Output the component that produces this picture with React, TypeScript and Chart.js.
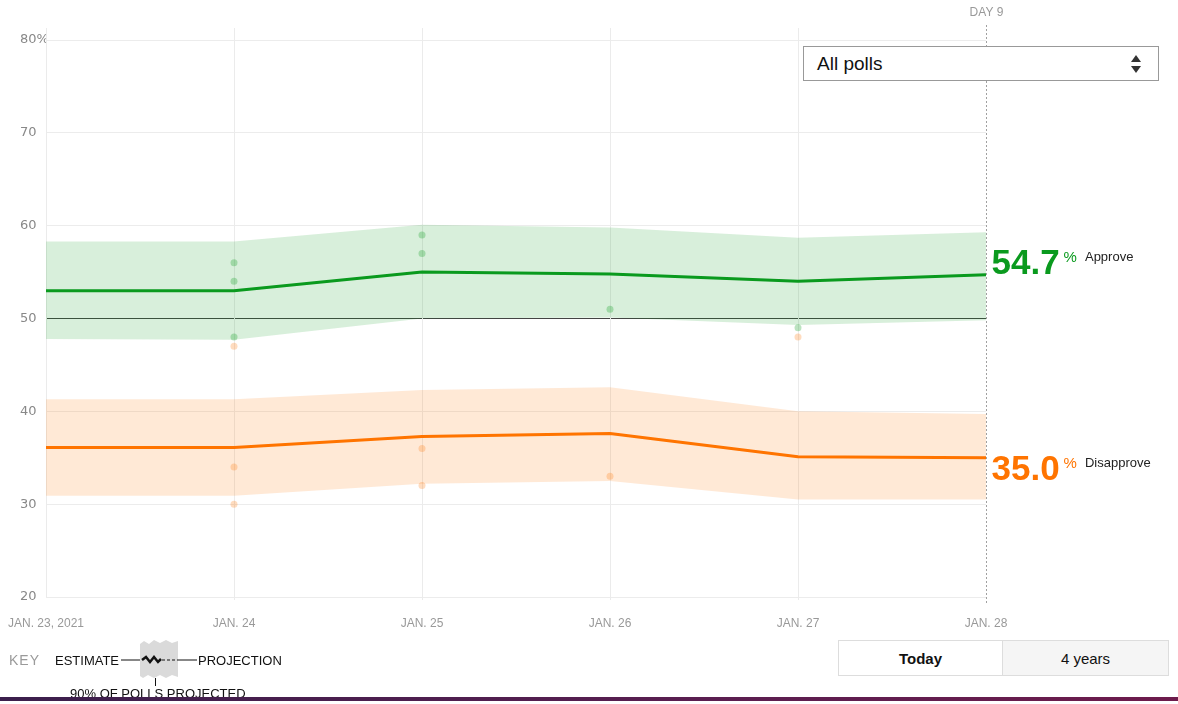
import React, { useEffect, useRef } from "react";
import { Chart, registerables } from "chart.js";

Chart.register(...registerables);

const dates = ["JAN. 23, 2021", "JAN. 24", "JAN. 25", "JAN. 26", "JAN. 27", "JAN. 28"];
const approve = [53.0, 53.0, 55.0, 54.8, 54.0, 54.7];
const approveHigh = [58.3, 58.3, 60.1, 59.8, 58.7, 59.3];
const approveLow = [47.8, 47.7, 50.0, 50.1, 49.3, 49.8];
const disapprove = [36.1, 36.1, 37.3, 37.6, 35.1, 35.0];
const disapproveHigh = [41.3, 41.3, 42.3, 42.6, 40.0, 39.7];
const disapproveLow = [30.9, 30.9, 32.2, 32.5, 30.5, 30.5];
const approvePolls = [
  { x: "JAN. 24", y: 56 },
  { x: "JAN. 24", y: 54 },
  { x: "JAN. 24", y: 48 },
  { x: "JAN. 25", y: 59 },
  { x: "JAN. 25", y: 57 },
  { x: "JAN. 26", y: 51 },
  { x: "JAN. 27", y: 49 },
];
const disapprovePolls = [
  { x: "JAN. 24", y: 47 },
  { x: "JAN. 24", y: 34 },
  { x: "JAN. 24", y: 30 },
  { x: "JAN. 25", y: 36 },
  { x: "JAN. 25", y: 32 },
  { x: "JAN. 26", y: 33 },
  { x: "JAN. 27", y: 48 },
];
const yMin = 20;
const yMax = 80;
const yStep = 10;
const dayLabel = "DAY 9";

const GREEN = "#0a9a1e";
const ORANGE = "#ff7400";

const overlayPlugin = {
  id: "overlay",
  beforeDatasetsDraw(chart: any) {
    const { ctx, chartArea, scales } = chart;
    const x = scales.x;
    ctx.save();
    ctx.strokeStyle = "#ebebeb";
    ctx.lineWidth = 1;
    for (let i = 0; i < dates.length - 1; i++) {
      const px = Math.round(x.getPixelForValue(i)) + 0.5;
      ctx.beginPath();
      ctx.moveTo(px, chartArea.top - 12);
      ctx.lineTo(px, chartArea.bottom + (i === 0 ? 0 : 3));
      ctx.stroke();
    }
    ctx.restore();
  },
  afterDraw(chart: any) {
    const { ctx, chartArea, scales } = chart;
    const x = scales.x;
    const y = scales.y;
    const last = dates.length - 1;
    const px = Math.round(x.getPixelForValue(last)) + 0.5;
    ctx.save();
    ctx.strokeStyle = "#a0a0a0";
    ctx.lineWidth = 1;
    ctx.setLineDash([2, 2]);
    ctx.beginPath();
    ctx.moveTo(px, chartArea.top - 15);
    ctx.lineTo(px, chartArea.bottom + 8);
    ctx.stroke();
    ctx.setLineDash([]);
    ctx.fillStyle = "#999";
    ctx.font = "12px 'Liberation Sans', Arial, sans-serif";
    ctx.textAlign = "center";
    ctx.textBaseline = "middle";
    ctx.fillText(dayLabel, px, 13);

    const drawLabel = (val: number, color: string, name: string, baseY: number) => {
      const lx = px + 5;
      ctx.textAlign = "left";
      ctx.textBaseline = "alphabetic";
      ctx.fillStyle = color;
      ctx.font = "bold 35px 'Liberation Sans', Arial, sans-serif";
      const t = val.toFixed(1);
      ctx.fillText(t, lx, baseY);
      const w = ctx.measureText(t).width;
      ctx.font = "15px 'Liberation Sans', Arial, sans-serif";
      ctx.fillText("%", lx + w + 4, baseY - 12);
      const w2 = ctx.measureText("%").width;
      ctx.fillStyle = "#222";
      ctx.font = "13px 'Liberation Sans', Arial, sans-serif";
      ctx.fillText(name, lx + w + w2 + 12, baseY - 13);
    };
    drawLabel(approve[last], GREEN, "Approve", y.getPixelForValue(approve[last]) - 1);
    drawLabel(disapprove[last], ORANGE, "Disapprove", y.getPixelForValue(disapprove[last]) + 22);
    ctx.restore();
  },
};

function ChartCanvas() {
  const ref = useRef<HTMLCanvasElement | null>(null);
  useEffect(() => {
    if (!ref.current) return;
    const chart = new Chart(ref.current, {
      type: "line",
      data: {
        labels: dates,
        datasets: [
          {
            data: approveHigh,
            fill: "+1",
            backgroundColor: "rgba(10,154,30,0.16)",
            borderWidth: 0,
            pointRadius: 0,
            order: 3,
          } as any,
          {
            data: approveLow,
            fill: false,
            borderWidth: 0,
            pointRadius: 0,
            order: 3,
          },
          {
            data: disapproveHigh,
            fill: "+1",
            backgroundColor: "rgba(255,116,0,0.16)",
            borderWidth: 0,
            pointRadius: 0,
            order: 3,
          },
          {
            data: disapproveLow,
            fill: false,
            borderWidth: 0,
            pointRadius: 0,
            order: 3,
          },
          {
            data: approve,
            borderColor: GREEN,
            borderWidth: 3,
            pointRadius: 0,
            fill: false,
            tension: 0,
            order: 0,
          },
          {
            data: disapprove,
            borderColor: ORANGE,
            borderWidth: 3,
            pointRadius: 0,
            fill: false,
            tension: 0,
            order: 0,
          },
          {
            data: approvePolls as any,
            showLine: false,
            pointRadius: 3.5,
            pointBorderWidth: 0,
            pointBackgroundColor: "rgba(10,154,30,0.28)",
            fill: false,
            order: 1,
          },
          {
            data: disapprovePolls as any,
            showLine: false,
            pointRadius: 3.5,
            pointBorderWidth: 0,
            pointBackgroundColor: "rgba(255,116,0,0.25)",
            fill: false,
            order: 1,
          },
        ],
      },
      options: {
        animation: false,
        responsive: false,
        devicePixelRatio: 1,
        layout: { padding: { top: 40, right: 192, left: 20, bottom: 0 } },
        plugins: { legend: { display: false }, tooltip: { enabled: false } },
        elements: { line: { borderJoinStyle: "round" } },
        scales: {
          x: {
            offset: false,
            grid: { display: false },
            border: { display: false },
            ticks: {
              color: "#999",
              font: { family: "'Liberation Sans', Arial, sans-serif", size: 12 },
              padding: 11,
              maxRotation: 0,
              autoSkip: false,
            },
            afterFit(scale: any) {
              scale.height = 43;
              scale.paddingLeft = 0;
              scale.paddingRight = 0;
            },
          },
          y: {
            min: yMin,
            max: yMax,
            grid: {
              drawTicks: false,
              color: (c: any) => (c.tick && c.tick.value === 50 ? "#444" : "#ececec"),
              lineWidth: 1,
            },
            border: { display: false },
            ticks: {
              stepSize: yStep,
              crossAlign: "far",
              padding: 0,
              color: "#888",
              font: { family: "'DejaVu Sans', sans-serif", size: 13 },
              callback: (v: any) => (v === yMax ? v + "%" : String(v)),
            },
            afterFit(scale: any) {
              scale.width = 26;
            },
          },
        },
      },
      plugins: [overlayPlugin],
    });
    return () => chart.destroy();
  }, []);
  return (
    <canvas
      ref={ref}
      width={1178}
      height={640}
      style={{ position: "absolute", left: 0, top: 0, width: 1178, height: 640 }}
    />
  );
}

export default function App() {
  const font = "'Liberation Sans', Arial, Helvetica, sans-serif";
  return (
    <div
      style={{
        position: "absolute",
        left: 0,
        top: 0,
        width: 1178,
        height: 704,
        background: "#fff",
        overflow: "hidden",
        fontFamily: font,
      }}
    >
      <ChartCanvas />
      <div
        style={{
          position: "absolute",
          left: 803,
          top: 46,
          width: 354,
          height: 33,
          border: "1px solid #999",
          background: "#fff",
          boxSizing: "content-box",
        }}
      >
        <span style={{ position: "absolute", left: 13, top: 6, fontSize: 19, color: "#111" }}>All polls</span>
        <svg width="12" height="20" style={{ position: "absolute", right: 16, top: 7 }}>
          <path d="M1 8 L6 1 L11 8 Z" fill="#333" />
          <path d="M1 12 L6 19 L11 12 Z" fill="#333" />
        </svg>
      </div>
      <svg width="320" height="74" style={{ position: "absolute", left: 0, top: 630 }}>
        <text x="9" y="35" fontSize="14" fill="#9a9a9a" letterSpacing="1" fontFamily={font}>KEY</text>
        <text x="55" y="35" fontSize="13" fill="#111" fontFamily={font}>ESTIMATE</text>
        <line x1="121" y1="30" x2="142" y2="30" stroke="#111" strokeWidth="1" />
        <path
          d="M140 14 L144 11 L149 14 L154 10 L160 13 L166 10 L172 13 L178 11 L178 47 L172 45 L166 48 L160 45 L154 48 L148 45 L143 48 L140 46 Z"
          fill="#dadada"
        />
        <path d="M142 30 L146 27 L150 32 L154 27 L158 32 L161 29" stroke="#111" strokeWidth="2.5" fill="none" />
        <line x1="162" y1="30" x2="178" y2="30" stroke="#111" strokeWidth="1" strokeDasharray="3,2" />
        <line x1="178" y1="30" x2="197" y2="30" stroke="#111" strokeWidth="1" />
        <text x="198" y="35" fontSize="13" fill="#111" fontFamily={font}>PROJECTION</text>
        <line x1="155.5" y1="48" x2="155.5" y2="56" stroke="#111" strokeWidth="1" />
        <text x="70" y="68" fontSize="13" fill="#111" fontFamily={font}>90% OF POLLS PROJECTED</text>
      </svg>
      <div
        style={{
          position: "absolute",
          left: 838,
          top: 640,
          width: 329,
          height: 34,
          border: "1px solid #ddd",
          display: "flex",
          fontSize: 15,
          color: "#111",
        }}
      >
        <div
          style={{
            width: 163,
            background: "#fff",
            borderRight: "1px solid #ddd",
            display: "flex",
            alignItems: "center",
            justifyContent: "center",
            fontWeight: "bold",
          }}
        >
          Today
        </div>
        <div
          style={{
            flex: 1,
            background: "#f5f5f5",
            display: "flex",
            alignItems: "center",
            justifyContent: "center",
          }}
        >
          4 years
        </div>
      </div>
      <div
        style={{
          position: "absolute",
          left: 0,
          top: 697,
          width: 1178,
          height: 4,
          background: "linear-gradient(90deg, #3b1f4c, #5a1e50 60%, #6d1b4c)",
        }}
      />
    </div>
  );
}
